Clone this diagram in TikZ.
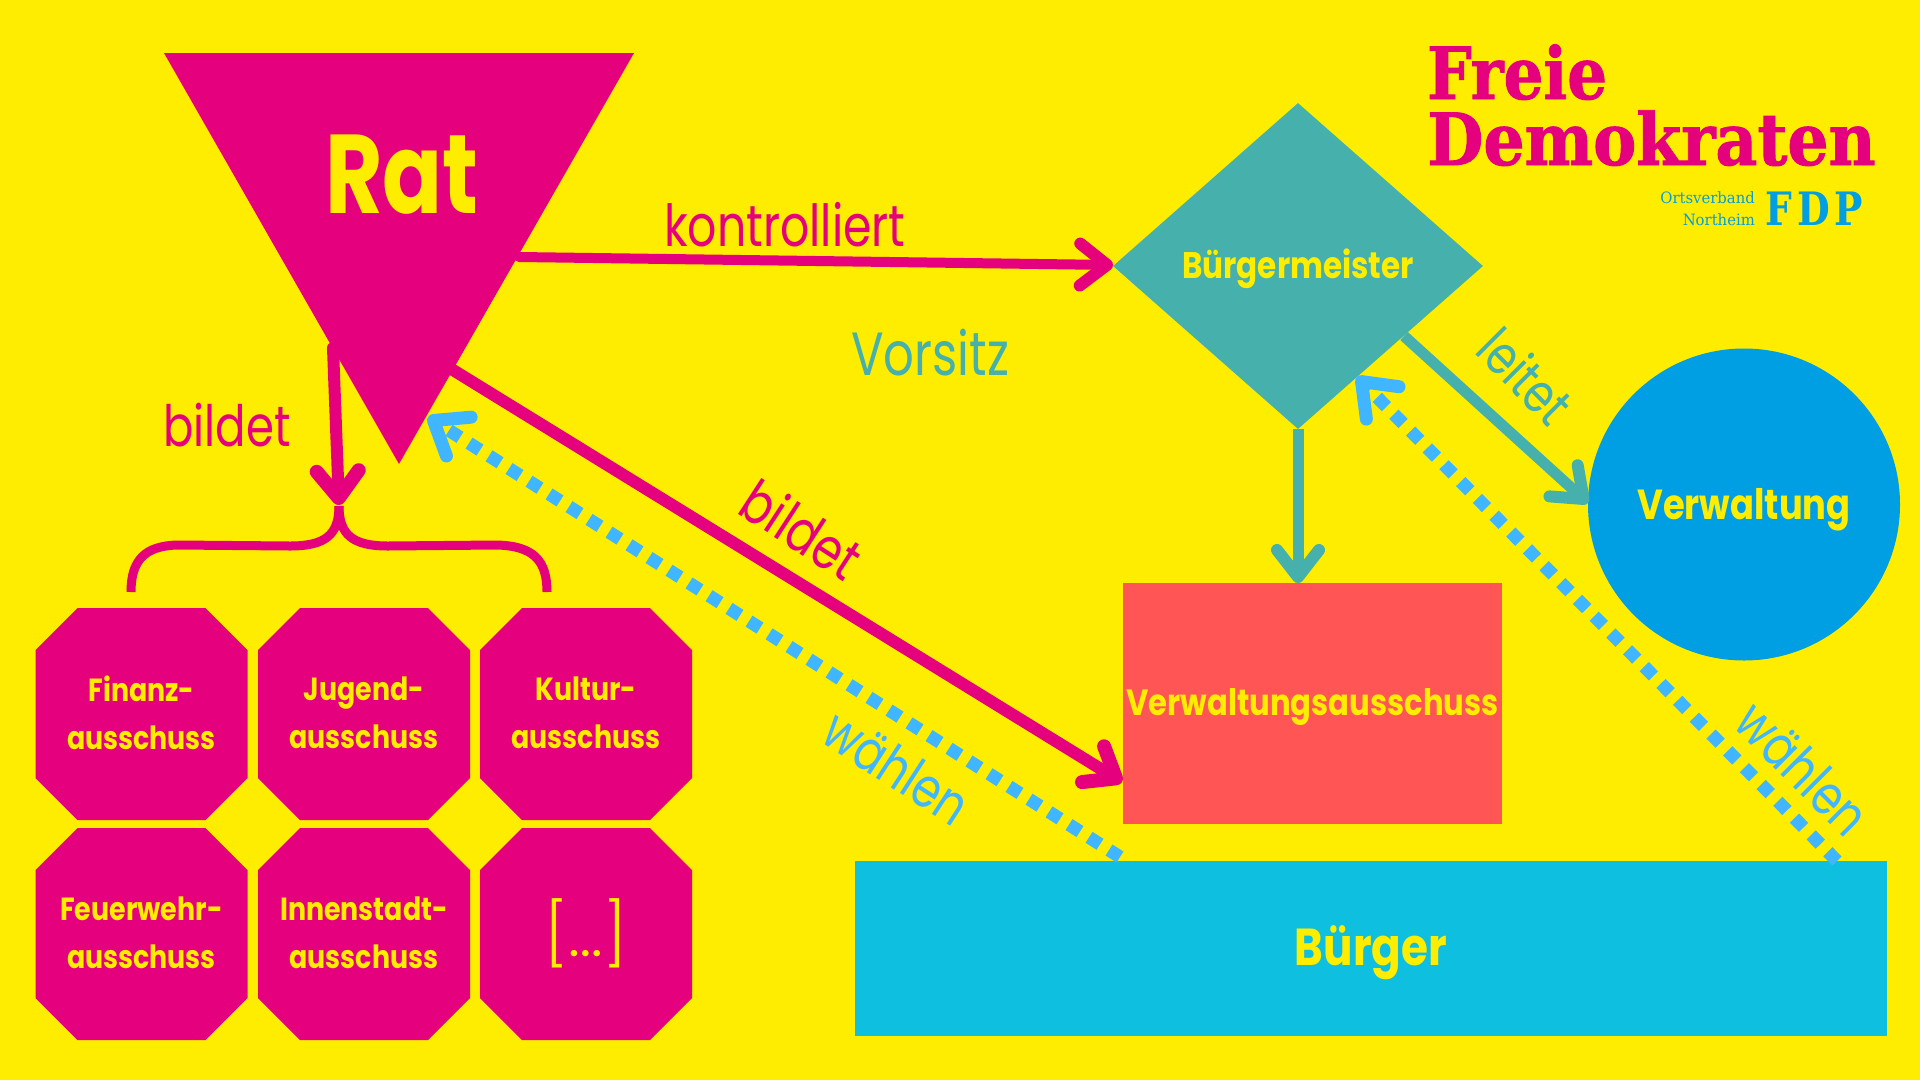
\documentclass[tikz,border=0pt]{standalone}
\usepackage{fontspec}
\usetikzlibrary{arrows.meta,shapes.geometric}
\setmainfont{Poppins}
\newfontfamily\fut[FakeStretch=0.84]{Poppins}
\newfontfamily\futr[FakeStretch=0.79]{Poppins}
\newfontfamily\futl[FakeStretch=0.79]{Poppins}
\newfontfamily\futx[FakeStretch=1.05]{Poppins Light}
\newfontfamily\logof[FakeStretch=0.87,FakeBold=1.2]{DejaVu Serif Bold}
\newfontfamily\logob[FakeStretch=0.90,FakeBold=1.2]{DejaVu Serif Bold}
\newfontfamily\logos[FakeStretch=0.95]{DejaVu Serif}
\newfontfamily\logop[FakeStretch=0.82,LetterSpace=11]{DejaVu Serif Bold}
\definecolor{bgy}{HTML}{FFED00}
\definecolor{mag}{HTML}{E5007D}
\definecolor{teal2}{HTML}{45B0AC}
\definecolor{fdpblue}{HTML}{009EE3}
\definecolor{coral}{HTML}{FF5555}
\definecolor{cyan2}{HTML}{0EBFE0}
\definecolor{dotb}{HTML}{3FB6FF}
\newcommand{\fsz}[1]{\fontsize{#1}{#1}\selectfont}
\newcommand{\dn}[2]{\raisebox{0pt}[\dimexpr\height+#1][\depth]{#2}}
\newcommand{\oktagon}[4]{%
  \fill[mag] (#2-106,#3-64) -- (#2-64,#3-106) -- (#2+64,#3-106) -- (#2+106,#3-64)
    -- (#2+106,#3+64) -- (#2+64,#3+106) -- (#2-64,#3+106) -- (#2-106,#3-0+64) -- cycle;
  \node[oktlab] (#1) at (#2,#3-1) {#4};}
\tikzset{
  lab/.style={text=bgy,inner sep=0pt,align=center},
  oktlab/.style={text=bgy,inner sep=0pt,align=center,font=\fut\bfseries\fsz{32},
     execute at begin node={\baselineskip=48pt}},
  word/.style={inner sep=0pt,font=\futl\fsz{58}},
  magline/.style={draw=mag,line cap=round,-{Straight Barb[length=27pt,width=42pt,round,line width=2pt 1]}},
  tealline/.style={draw=teal2,line width=11pt,-{Straight Barb[length=27pt,width=42pt,round,line width=1pt 1]}},
  dotline/.style={draw=dotb,line width=13pt,dash pattern=on 13pt off 10.7pt,-{Straight Barb[length=30pt,width=46pt,round]}},
}
\begin{document}
\begin{tikzpicture}[x=1pt,y=-1pt]
\useasboundingbox (0,0) rectangle (1920,1080);
\fill[bgy] (0,0) rectangle (1920,1080);
% shapes
\fill[mag] (164,53) -- (634,53) -- (399,464) -- cycle;
\node[lab,font=\futr\bfseries\fsz{112}] (rat) at (402,175) {Rat};
\oktagon{o1}{141.5}{714}{Finanz-\\ausschuss}
\oktagon{o2}{364}{714}{Jugend-\\ausschuss}
\oktagon{o3}{586}{714}{Kultur-\\ausschuss}
\oktagon{o4}{141.5}{934}{Feuerwehr-\\ausschuss}
\oktagon{o5}{364}{934}{Innenstadt-\\ausschuss}
\oktagon{o6}{586}{934}{\mdseries\futx\fsz{62}[…]}
\node[diamond,fill=teal2,minimum width=370pt,minimum height=326pt,inner sep=0pt,text=bgy,font=\fut\bfseries\fsz{37}] (bm) at (1298,266) {\dn{5pt}{Bürgermeister}};
\node[circle,fill=fdpblue,minimum size=312pt,inner sep=0pt,text=bgy,font=\fut\bfseries\fsz{42}] (vw) at (1744,504.5) {\dn{10pt}{Verwaltung}};
\node[rectangle,fill=coral,minimum width=379pt,minimum height=241pt,inner sep=0pt,text=bgy,font=\fut\bfseries\fsz{36.5}] (va) at (1312.5,703) {\dn{8pt}{Verwaltungsausschuss}};
\node[rectangle,fill=cyan2,minimum width=1032pt,minimum height=175pt,inner sep=0pt,text=bgy,font=\fut\bfseries\fsz{52}] (bg) at (1371,948.5) {\dn{8pt}{Bürger}};
% endpoints
\coordinate (k1) at (519,257);
\coordinate (k2) at (1113,265);
\coordinate (b1) at (333,348);
\coordinate (b2) at (339,505);
\coordinate (br) at (339,506);
\coordinate (bl) at (131,592);
\coordinate (brr) at (547,592);
\coordinate (l1) at (453,370);
\coordinate (l2) at (1122,782);
\coordinate (d1) at (1120,857);
\coordinate (d2) at (428,417);
\coordinate (e1) at (1837,861);
\coordinate (e2) at (1357,377);
\coordinate (t1) at (1298,429);
\coordinate (t2) at (1298,583);
\coordinate (u1) at (1404,336);
\coordinate (u2) at (1588,503);
% connectors
\draw[magline,line width=10pt] (k1) -- (k2);
\draw[magline,line width=12pt] (b1) -- (b2);
\draw[mag,line width=9pt] (br) .. controls (339,535) and (325,546) .. (290,546) -- (177,545) .. controls (145,546) and (131,560) .. (bl);
\draw[mag,line width=9pt] (br) .. controls (339,535) and (353,546) .. (388,546) -- (497,545) .. controls (533,546) and (547,560) .. (brr);
\draw[magline,line width=12pt] (l1) -- (l2);
\draw[dotline] (d1) -- (d2);
\draw[dotline] (e1) -- (e2);
\draw[tealline] (t1) -- (t2);
\draw[tealline] (u1) -- (u2);
% labels
\node[word,text=mag] (wk) at (785,225) {kontrolliert};
\node[word,text=teal2,font=\futl\fsz{61}] (wv) at (930,353) {Vorsitz};
\node[word,text=mag,font=\futl\fsz{57}] (wb) at (227,425) {bildet};
\node[word,text=mag,rotate=-33] (wb2) at (802,529) {bildet};
\node[word,text=teal2,rotate=-45,font=\futl\fsz{55}] (wl) at (1526,376) {leitet};
\node[word,text=dotb,rotate=-33,font=\futl\fsz{56}] (ww1) at (897,767) {wählen};
\node[word,text=dotb,rotate=-45,font=\futl\fsz{56}] (ww2) at (1803,768) {wählen};
% logo
\node[inner sep=0pt,anchor=base west,text=mag,font=\logof\fsz{72}] (lf) at (1427,99) {Freie};
\node[inner sep=0pt,anchor=base west,text=mag,font=\logob\fsz{72}] (ld) at (1427,165) {Demokraten};
\node[inner sep=0pt,anchor=base east,text=fdpblue,font=\logos\fsz{15.6}] (lo) at (1755,203) {Ortsverband};
\node[inner sep=0pt,anchor=base east,text=fdpblue,font=\logos\fsz{15.6}] (ln) at (1755,225) {Northeim};
\node[inner sep=0pt,anchor=base west,text=fdpblue,font=\logop\fsz{46}] (lp) at (1765,225) {FDP};
\end{tikzpicture}
\end{document}
